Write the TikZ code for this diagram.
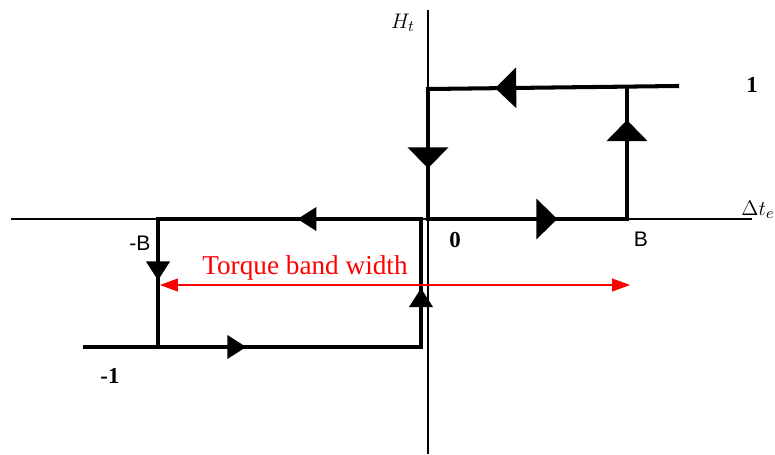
\documentclass[tikz,border=0pt]{standalone}
\usepackage{fontspec}
\setmainfont{Liberation Serif}
\newfontfamily\labelsans{Liberation Sans}
\usetikzlibrary{arrows.meta, decorations.markings}
\definecolor{bandred}{HTML}{FF0000}

\begin{document}
\begin{tikzpicture}[x=0.02cm, y=-0.02cm,
    axis/.style={line width=1pt},
    loopline/.style={line width=2.3pt, line cap=rect},
    bigtip/.style={postaction={decorate, decoration={markings,
      mark=at position #1 with {\arrow{Triangle[length=0.42cm, width=0.8cm]}}}}},
    smalltip/.style={postaction={decorate, decoration={markings,
      mark=at position #1 with {\arrow{Triangle[length=0.38cm, width=0.46cm]}}}}}]
    \useasboundingbox (0,0) rectangle (775,454);
    % axes
    \coordinate (xl) at (11,219);
    \coordinate (xr) at (752,219);
    \coordinate (yt) at (428,10);
    \coordinate (yb) at (428,454);
    \draw[axis] (xl) -- (xr);
    \draw[axis] (yt) -- (yb);
    % upper loop
    \coordinate (u0) at (428,219);
    \coordinate (ub) at (627,219);
    \coordinate (ubt) at (627,87);
    \coordinate (ue) at (677,86);
    \coordinate (u0t) at (428,89);
    \draw[loopline, bigtip=0.65] (u0) -- (ub);
    \draw[loopline, bigtip=0.75] (ub) -- (ubt);
    \draw[loopline, bigtip=0.73] (ue) -- (u0t);
    \draw[loopline, bigtip=0.61] (u0t) -- (u0);
    % lower loop
    \coordinate (l0t) at (421,219);
    \coordinate (lbt) at (158,219);
    \coordinate (lbb) at (158,347);
    \coordinate (lst) at (85,347);
    \coordinate (l0b) at (421,347);
    \draw[loopline, smalltip=0.47] (l0t) -- (lbt);
    \draw[loopline, smalltip=0.48] (lbt) -- (lbb);
    \draw[loopline, smalltip=0.48] (lst) -- (l0b);
    \draw[loopline, smalltip=0.46] (l0b) -- (l0t);
    % band width
    \coordinate (bl) at (160,285);
    \coordinate (br) at (630,285);
    \draw[bandred, line width=0.6pt, {Triangle[length=0.36cm, width=0.26cm]}-{Triangle[length=0.36cm, width=0.26cm]}] (bl) -- (br);
    \node[text=bandred, font=\fontsize{15.5}{17}\selectfont] (bandlabel) at (305,268) {Torque band width};
    % labels
    \node[font=\fontsize{13}{15}\selectfont] (htlabel) at (403,23) {$H_t$};
    \node[font=\fontsize{13}{15}\selectfont, anchor=base west, inner sep=0pt] (dtlabel) at (741,215) {$\Delta t_e$};
    \node[font=\fontsize{13}{15}\selectfont\bfseries] (onelabel) at (752,85) {1};
    \node[font=\fontsize{13}{15}\selectfont\bfseries] (monelabel) at (110,376) {-1};
    \node[font=\fontsize{13}{15}\selectfont\bfseries] (zerolabel) at (455,240) {0};
    \node[font=\fontsize{12}{14}\labelsans] (mblabel) at (140,243) {-B};
    \node[font=\fontsize{12}{14}\labelsans] (blabel) at (641,239) {B};
\end{tikzpicture}
\end{document}
